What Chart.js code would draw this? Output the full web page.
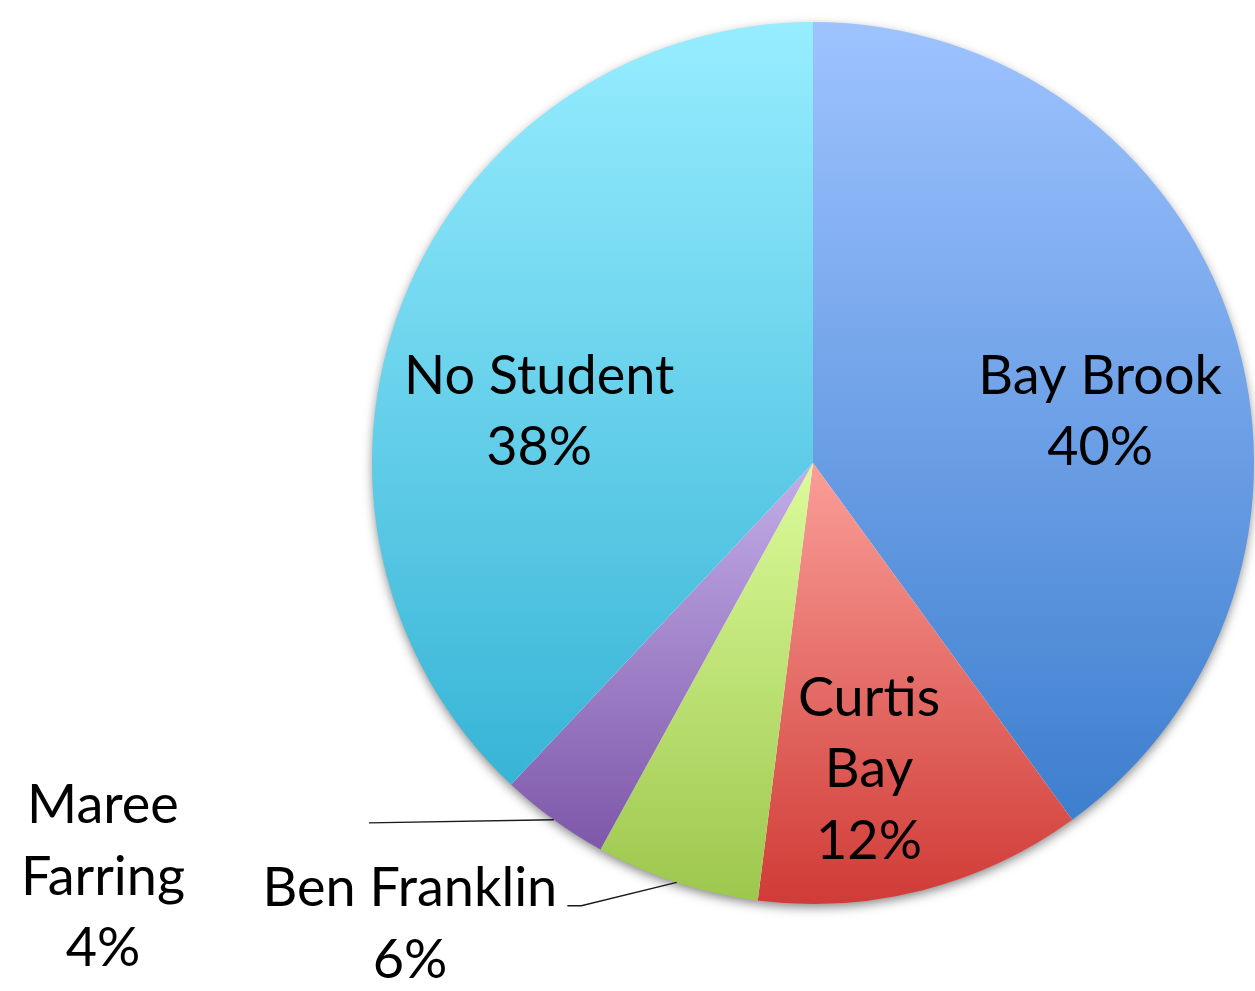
<!DOCTYPE html>
<html>
<head>
<meta charset="utf-8">
<script src="https://cdn.jsdelivr.net/npm/chart.js@4"></script>
<style>
  html, body { margin: 0; padding: 0; background: #ffffff; }
  #wrap { width: 1255px; height: 991px; position: relative; }
</style>
</head>
<body>
<div id="wrap"><canvas id="c"></canvas></div>
<script>
// ---- data ----
const categories = ["Bay Brook", "Curtis Bay", "Ben Franklin", "Maree Farring", "No Student"];
const values = [40, 12, 6, 4, 38];
const labelLines = [["Bay Brook", "40%"], ["Curtis", "Bay", "12%"], ["Ben Franklin", "6%"], ["Maree", "Farring", "4%"], ["No Student", "38%"]];
const topColors = ["#9EC3FF", "#FA9E98", "#DCFB9B", "#C3AEE9", "#97EDFF"];
const bottomColors = ["#3D7ECE", "#D03B36", "#9DC74D", "#7E57A9", "#37B4D6"];

// label block centers relative to pie centre, in radius units
const labelOffsets = [[0.651, -0.116], [0.127, 0.696], [-0.914, 1.047], [-1.610, 0.939], [-0.621, -0.116]];
// leader lines: start point relative to centre (radius units), optional elbow length (px)
const leaders = [null, null, { start: [-0.557, 1.004], elbow: 14 }, { start: [-1.007, 0.816], elbow: 0 }, null];

function geom(chart) {
  const ca = chart.chartArea;
  const cx = (ca.left + ca.right) / 2, cy = (ca.top + ca.bottom) / 2;
  const r = Math.min(ca.right - ca.left, ca.bottom - ca.top) / 2;
  return { cx, cy, r };
}
function sliceAngles(i) {
  const total = values.reduce((a, b) => a + b, 0);
  let before = 0;
  for (let k = 0; k < i; k++) before += values[k];
  const s = -Math.PI / 2 + before / total * 2 * Math.PI;
  const e = s + values[i] / total * 2 * Math.PI;
  return [s, e];
}
function sliceFill(context) {
  const i = context.dataIndex;
  const chart = context.chart;
  if (!chart.chartArea) return topColors[i];
  const { cx, cy, r } = geom(chart);
  const [s, e] = sliceAngles(i);
  const ys = [cy, cy + r * Math.sin(s), cy + r * Math.sin(e)];
  [-Math.PI / 2, Math.PI / 2, 3 * Math.PI / 2].forEach(a => {
    if (a >= s && a <= e) ys.push(cy + r * Math.sin(a));
  });
  const minY = Math.min(...ys), maxY = Math.max(...ys);
  const g = chart.ctx.createLinearGradient(0, minY, 0, maxY);
  g.addColorStop(0, topColors[i]);
  g.addColorStop(1, bottomColors[i]);
  return g;
}

const shadowPlugin = {
  id: 'pieShadow',
  beforeDatasetsDraw(chart) {
    const { cx, cy, r } = geom(chart);
    const ctx = chart.ctx;
    ctx.save();
    ctx.shadowColor = 'rgba(0,0,0,0.5)';
    ctx.shadowBlur = 11;
    ctx.shadowOffsetX = 0;
    ctx.shadowOffsetY = 4;
    ctx.fillStyle = '#ffffff';
    ctx.beginPath();
    ctx.arc(cx, cy, r - 1, 0, Math.PI * 2);
    ctx.fill();
    ctx.restore();
  }
};

const labelPlugin = {
  id: 'pieLabels',
  afterDatasetsDraw(chart) {
    const { cx, cy, r } = geom(chart);
    const ctx = chart.ctx;
    ctx.save();
    // leader lines
    ctx.strokeStyle = '#1a1a1a';
    ctx.lineWidth = 1.4;
    leaders.forEach((ld, i) => {
      if (!ld) return;
      const [s, e] = sliceAngles(i);
      const m = (s + e) / 2;
      const ex = cx + r * Math.cos(m), ey = cy + r * Math.sin(m);
      const sx = cx + ld.start[0] * r, sy = cy + ld.start[1] * r;
      ctx.beginPath();
      ctx.moveTo(sx, sy);
      if (ld.elbow) ctx.lineTo(sx + ld.elbow, sy);
      ctx.lineTo(ex, ey);
      ctx.stroke();
    });
    // text
    ctx.fillStyle = '#000000';
    ctx.font = '54px Lato, "DejaVu Sans", sans-serif';
    ctx.textAlign = 'center';
    ctx.textBaseline = 'middle';
    const lh = 71.5;
    labelLines.forEach((lines, i) => {
      const x = cx + labelOffsets[i][0] * r;
      const y0 = cy + labelOffsets[i][1] * r - (lines.length - 1) * lh / 2;
      lines.forEach((t, k) => ctx.fillText(t, x, y0 + k * lh));
    });
    ctx.restore();
  }
};

new Chart(document.getElementById('c'), {
  type: 'pie',
  data: {
    labels: categories,
    datasets: [{
      data: values,
      backgroundColor: sliceFill,
      borderWidth: 0,
      hoverOffset: 0
    }]
  },
  options: {
    responsive: true,
    maintainAspectRatio: false,
    animation: false,
    layout: { padding: { left: 372, right: 1, top: 22, bottom: 87 } },
    plugins: {
      legend: { display: false },
      tooltip: { enabled: false }
    }
  },
  plugins: [shadowPlugin, labelPlugin]
});
</script>
</body>
</html>
